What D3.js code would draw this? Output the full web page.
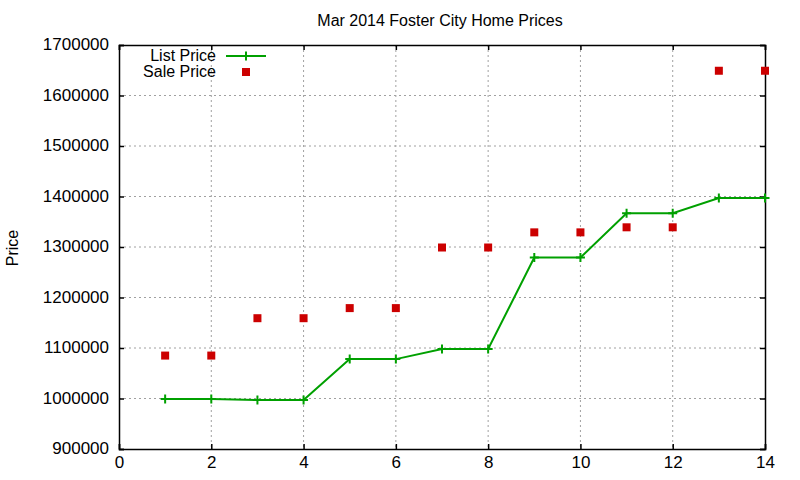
<!DOCTYPE html>
<html><head><meta charset="utf-8">
<script src="https://cdn.jsdelivr.net/npm/d3@7"></script>
<style>body{margin:0;background:#fff}text{font-family:"Liberation Sans",Arial,sans-serif}</style>
</head><body>
<svg id="c" width="800" height="480"></svg>
<script>
const xs = [1,2,3,4,5,6,7,8,9,10,11,12,13,14];
const listPrice = [999000,999000,997000,997000,1078000,1078000,1098000,1098000,1279000,1279000,1367000,1367000,1397000,1397000];
const salePrice = [1085000,1085000,1159000,1159000,1179000,1179000,1299000,1299000,1329000,1329000,1339000,1339000,1649000,1649000];
const xTicks = [0,2,4,6,8,10,12,14];
const yTicks = [900000,1000000,1100000,1200000,1300000,1400000,1500000,1600000,1700000];
const title = "Mar 2014 Foster City Home Prices";

const svg = d3.select("#c");
const L=119, R=765, T=45, B=449;
const x = d3.scaleLinear().domain([0,14]).range([L,R]);
const y = d3.scaleLinear().domain([900000,1700000]).range([B,T]);

// grid
const g = svg.append("g");
g.selectAll(".gx").data(xTicks.slice(1,-1)).join("line")
  .attr("x1",d=>x(d)).attr("x2",d=>x(d)).attr("y1",T).attr("y2",B)
  .attr("stroke","#a0a0a0").attr("stroke-dasharray","2,3").attr("stroke-width",1);
g.selectAll(".gy").data(yTicks.slice(1,-1)).join("line")
  .attr("y1",d=>y(d)).attr("y2",d=>y(d)).attr("x1",L).attr("x2",R)
  .attr("stroke","#a0a0a0").attr("stroke-dasharray","2,3").attr("stroke-width",1);

// axes
const fs = "17px";
const xb = svg.append("g").attr("transform",`translate(0,${B})`).call(d3.axisBottom(x).tickValues(xTicks).tickSize(-5).tickPadding(7));
const xt = svg.append("g").attr("transform",`translate(0,${T})`).call(d3.axisTop(x).tickValues(xTicks).tickSize(-5).tickFormat(""));
const yl = svg.append("g").attr("transform",`translate(${L},0)`).call(d3.axisLeft(y).tickValues(yTicks).tickSize(-5).tickPadding(10).tickFormat(d3.format("d")));
const yr = svg.append("g").attr("transform",`translate(${R},0)`).call(d3.axisRight(y).tickValues(yTicks).tickSize(-5).tickFormat(""));
[xb,xt,yl,yr].forEach(a=>{
  a.select(".domain").attr("stroke","#000").attr("stroke-width",1.5);
  a.selectAll(".tick line").attr("stroke","#000").attr("stroke-width",1.5);
  a.selectAll("text").attr("fill","#000").style("font-size",fs).style("font-family","'Liberation Sans',Arial,sans-serif");
});
yl.selectAll("text").attr("dy","0.28em");

// title & label
svg.append("text").attr("x",440).attr("y",26).attr("text-anchor","middle").style("font-size","16px").text(title);
svg.append("text").attr("transform","translate(18,248) rotate(-90)").attr("text-anchor","middle").style("font-size","16px").text("Price");

const green="#00a000", red="#cc0000";
const plot = svg.append("g");
plot.append("path").datum(xs.map((d,i)=>[d,listPrice[i]]))
  .attr("d",d3.line().x(d=>x(d[0])).y(d=>y(d[1])))
  .attr("fill","none").attr("stroke",green).attr("stroke-width",2);
const plus = (sel,cx,cy)=>{
  sel.append("path").attr("d",`M${cx-4.5},${cy}H${cx+4.5}M${cx},${cy-4.5}V${cy+4.5}`).attr("stroke",green).attr("stroke-width",2);
};
xs.forEach((d,i)=>plus(plot,x(d),y(listPrice[i])));
plot.selectAll(".sq").data(xs).join("rect")
  .attr("x",(d)=>x(d)-4).attr("y",(d,i)=>y(salePrice[i])-4).attr("width",8).attr("height",8).attr("fill",red);

// legend
svg.append("text").attr("x",216).attr("y",61).attr("text-anchor","end").style("font-size","16px").text("List Price");
svg.append("line").attr("x1",226).attr("x2",266).attr("y1",56).attr("y2",56).attr("stroke",green).attr("stroke-width",2);
plus(svg,246,56);
svg.append("text").attr("x",216).attr("y",77).attr("text-anchor","end").style("font-size","16px").text("Sale Price");
svg.append("rect").attr("x",242).attr("y",68).attr("width",8).attr("height",8).attr("fill",red);
</script>
</body></html>
